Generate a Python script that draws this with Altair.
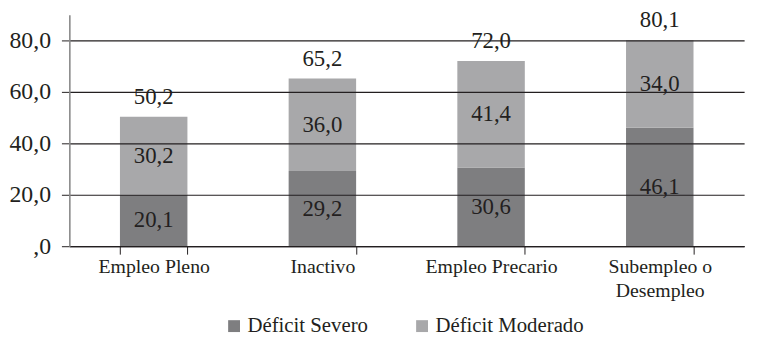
import altair as alt
import pandas as pd

categories = ["Empleo Pleno", "Inactivo", "Empleo Precario", "Subempleo o Desempleo"]
severo = [20.1, 29.2, 30.6, 46.1]
moderado = [30.2, 36.0, 41.4, 34.0]
totales = [50.2, 65.2, 72.0, 80.1]
series = ["Déficit Severo", "Déficit Moderado"]
y_ticks = [0, 20, 40, 60, 80]

rows = []
for c, s, m in zip(categories, severo, moderado):
    rows.append({"category": c, "serie": series[0], "value": s, "ord": 0})
    rows.append({"category": c, "serie": series[1], "value": m, "ord": 1})
df = pd.DataFrame(rows)
df_tot = pd.DataFrame({"category": categories, "total": totales})

FONT = "Liberation Serif"
TXT = "#231f20"
DARK = "#7e7e80"
LIGHT = "#a8a8aa"

x_enc = alt.X(
    "category:N",
    sort=categories,
    scale=alt.Scale(paddingInner=0.6, paddingOuter=0.3),
    axis=alt.Axis(
        title=None,
        labelAngle=0,
        labelFont=FONT,
        labelFontSize=20,
        labelColor=TXT,
        labelPadding=3,
        labelLineHeight=24,
        labelExpr="datum.value == 'Subempleo o Desempleo' ? ['Subempleo o', 'Desempleo'] : datum.label",
        tickBand="extent",
        tickSize=8,
        tickColor=TXT,
        domainColor=TXT,
        domainWidth=1.2,
    ),
)

y_scale = alt.Scale(domain=[0, 90], nice=False)

bars = alt.Chart(df).mark_bar().encode(
    x=x_enc,
    y=alt.Y(
        "value:Q",
        stack="zero",
        scale=y_scale,
        axis=alt.Axis(
            title=None,
            values=y_ticks,
            labelExpr="datum.value == 0 ? ',0' : replace(format(datum.value, '.1f'), '.', ',')",
            labelFont=FONT,
            labelFontSize=24,
            labelColor=TXT,
            labelPadding=11,
            grid=True,
            gridColor=TXT,
            gridWidth=1.2,
            tickSize=8,
            tickColor=TXT,
            domainColor="#8a8a8a",
            domainWidth=1.6,
            zindex=1,
        ),
    ),
    color=alt.Color(
        "serie:N",
        scale=alt.Scale(domain=series, range=[DARK, LIGHT]),
        legend=alt.Legend(
            title=None,
            orient="none",
            direction="horizontal",
            legendX=156,
            legendY=304,
            symbolType="square",
            symbolSize=144,
            symbolStrokeWidth=0,
            labelFont=FONT,
            labelFontSize=21,
            labelColor=TXT,
            labelOffset=3,
            columnPadding=44,
        ),
    ),
    order=alt.Order("ord:Q"),
)

seg_labels = (
    alt.Chart(df)
    .transform_stack(stack="value", groupby=["category"], as_=["y0", "y1"], sort=[alt.SortField("ord")])
    .transform_calculate(
        mid="(datum.y0 + datum.y1) / 2",
        lab="replace(format(datum.value, '.1f'), '.', ',')",
    )
    .mark_text(font=FONT, fontSize=23, color=TXT, baseline="middle")
    .encode(x=alt.X("category:N", sort=categories), y=alt.Y("mid:Q", scale=y_scale), text="lab:N")
)

tot_labels = (
    alt.Chart(df_tot)
    .transform_calculate(lab="replace(format(datum.total, '.1f'), '.', ',')")
    .mark_text(font=FONT, fontSize=23, color=TXT, baseline="alphabetic", dy=-13)
    .encode(x=alt.X("category:N", sort=categories), y=alt.Y("total:Q", scale=y_scale), text="lab:N")
)

chart = (
    alt.layer(bars, seg_labels, tot_labels)
    .properties(
        width=682,
        height=234,
        autosize=alt.AutoSizeParams(type="none"),
        padding={"left": 62, "top": 5, "right": 11, "bottom": 92},
    )
    .configure_view(strokeWidth=0)
)

chart.save("out.html", embed_options={"renderer": "svg", "actions": False})
